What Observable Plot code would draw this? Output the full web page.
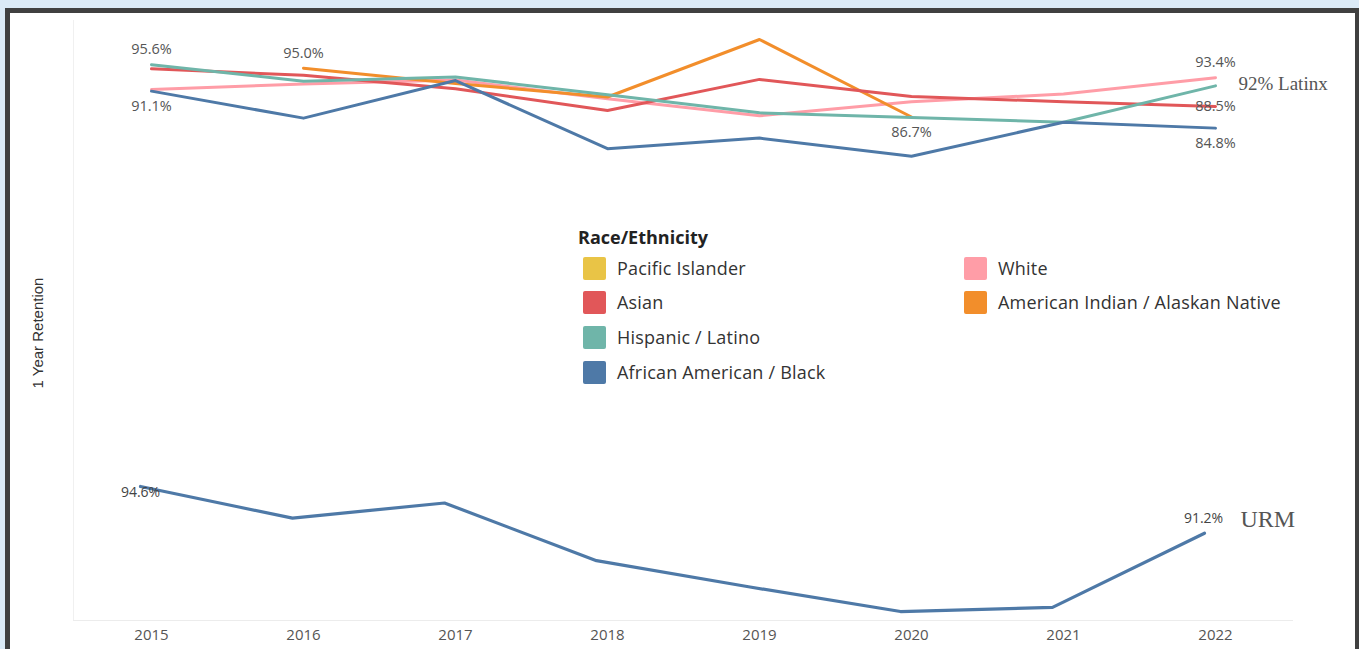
<!DOCTYPE html>
<html>
<head>
<meta charset="utf-8">
<script src="https://cdn.jsdelivr.net/npm/d3@7"></script>
<script src="https://cdn.jsdelivr.net/npm/@observablehq/plot@0.6"></script>
<style>
  html, body { margin: 0; padding: 0; width: 1359px; height: 649px; overflow: hidden; background: #dbeaf6; font-family: "Open Sans", "Noto Sans", sans-serif; }
  #frame { position: absolute; left: 5px; top: 8px; width: 1354px; height: 700px; box-sizing: border-box; background: #fff; border-style: solid; border-color: #404040; border-width: 5px 4px 0 5px; }
  .abs { position: absolute; }
  #topPanel { left: 0; top: 0; }
  #bottomPanel { left: 0; top: 200px; }
  #ylabel { left: 37px; top: 333px; transform: translate(-50%, -50%) rotate(-90deg); font-family: "Liberation Sans", sans-serif; font-size: 15px; color: #333; white-space: nowrap; }
  #legend-title { left: 578px; top: 225px; font-size: 18px; font-weight: 700; color: #222; white-space: nowrap; }
  .item { position: absolute; display: flex; align-items: center; white-space: nowrap; font-size: 18px; letter-spacing: 0.2px; color: #333; height: 24px; }
  .sw { width: 23px; height: 23px; border-radius: 2px; margin-right: 11px; }
</style>
</head>
<body>
<div id="frame"></div>
<div id="topPanel" class="abs"></div>
<div id="bottomPanel" class="abs"></div>
<div id="ylabel" class="abs">1 Year Retention</div>
<div id="legend-title" class="abs">Race/Ethnicity</div>
<div id="legend"></div>
<script>
// ---------- data ----------
const years = [2015, 2016, 2017, 2018, 2019, 2020, 2021, 2022];

const categories = ["Pacific Islander", "Asian", "Hispanic / Latino", "African American / Black", "White", "American Indian / Alaskan Native"];
const colors     = ["#e9c446", "#e15759", "#6fb5a9", "#4e79a7", "#ff9da7", "#f28e2b"];

const pacificIslander = [null, null, null, null, null, null, null, null];
const asian           = [94.9, 93.8, 91.5, 87.8, 93.1, 90.2, 89.3, 88.5];
const hispanicLatino  = [95.6, 92.8, 93.5, 90.5, 87.4, 86.6, 85.8, 92.0];
const africanAmerican = [91.1, 86.5, 92.9, 81.3, 83.1, 80.0, 85.8, 84.8];
const white           = [91.4, 92.3, 93.0, 89.8, 86.9, 89.3, 90.6, 93.4];
const americanIndian  = [null, 95.0, 92.4, 90.1, 99.9, 86.7, null, null];

const urm = [94.6, 92.3, 93.4, 89.2, 87.3, 85.5, 85.8, 91.2];

// value labels shown on the chart: [series, year]
const labelsAbove = [["Hispanic / Latino", 2015], ["American Indian / Alaskan Native", 2016], ["White", 2022]];
const labelsBelow = [["African American / Black", 2015], ["American Indian / Alaskan Native", 2020], ["African American / Black", 2022]];
const labelsOn    = [["Asian", 2022]];
const latinxNote  = "92% Latinx";
const urmNote     = "URM";

// ---------- build tables ----------
const seriesValues = {
  "Pacific Islander": pacificIslander,
  "Asian": asian,
  "Hispanic / Latino": hispanicLatino,
  "African American / Black": africanAmerican,
  "White": white,
  "American Indian / Alaskan Native": americanIndian
};
const drawOrder = ["White", "American Indian / Alaskan Native", "Asian", "Hispanic / Latino", "African American / Black", "Pacific Islander"];
const rows = [];
for (const s of drawOrder) {
  seriesValues[s].forEach((v, i) => { if (v != null) rows.push({series: s, year: years[i], value: v}); });
}
const lookup = ([s, y]) => ({series: s, year: y, value: seriesValues[s][years.indexOf(y)]});
const fmt = v => d3.format(".1f")(v) + "%";
const urmRows = urm.map((v, i) => ({year: years[i], value: v}));

const labelFont = "'Open Sans', 'Noto Sans', sans-serif";
const lblStyle = {fill: "#555", fontSize: 14.5, fontFamily: labelFont, letterSpacing: "0.3px"};

// ---------- top panel ----------
const topChart = Plot.plot({
  width: 1359, height: 200,
  marginLeft: 73, marginRight: 67, marginTop: 20, marginBottom: 0,
  style: {background: "transparent", overflow: "visible"},
  x: {type: "point", domain: years, padding: 0.5, axis: null},
  y: {domain: [80, 100], range: [155.8, 38.4], axis: null},
  color: {domain: categories, range: colors},
  marks: [
    Plot.frame({anchor: "left", stroke: "#f0f0f0"}),
    Plot.line(rows, {x: "year", y: "value", z: "series", stroke: "series", strokeWidth: 3, curve: "linear"}),
    Plot.text(labelsAbove.map(lookup), {x: "year", y: "value", text: d => fmt(d.value), dy: -15, ...lblStyle}),
    Plot.text(labelsBelow.map(lookup), {x: "year", y: "value", text: d => fmt(d.value), dy: 15, ...lblStyle}),
    Plot.text(labelsOn.map(lookup), {x: "year", y: "value", text: d => fmt(d.value), dy: 0, ...lblStyle}),
    Plot.text([lookup(["Hispanic / Latino", 2022])], {x: "year", y: "value", text: () => latinxNote, textAnchor: "start", dx: 23, dy: -2, fill: "#555", fontSize: 19, fontFamily: "'Liberation Serif', serif"})
  ]
});
document.getElementById("topPanel").appendChild(topChart);

// ---------- bottom panel ----------
const bottomChart = Plot.plot({
  width: 1359, height: 449,
  marginLeft: 73, marginRight: 67, marginTop: 0, marginBottom: 29,
  style: {background: "transparent", overflow: "visible"},
  x: {type: "point", domain: years, padding: 0.5},
  y: {domain: [85, 95], range: [417.9, 280.5], axis: null},
  marks: [
    Plot.frame({anchor: "left", stroke: "#f0f0f0"}),
    Plot.frame({anchor: "bottom", stroke: "#ececec"}),
    Plot.axisX({tickSize: 0, tickPadding: 9, fontSize: 15, fill: "#555", fontFamily: labelFont, letterSpacing: "1px", tickFormat: d => String(d), label: null}),
    Plot.line(urmRows, {x: "year", y: "value", stroke: "#4e79a7", strokeWidth: 3.2, dx: -11}),
    Plot.text([urmRows[0]], {x: "year", y: "value", text: d => fmt(d.value), dx: -11, dy: 6, fill: "#444", fontSize: 14, fontFamily: labelFont}),
    Plot.text([urmRows[urmRows.length - 1]], {x: "year", y: "value", text: d => fmt(d.value), dx: -12, dy: -15, fill: "#444", fontSize: 14, fontFamily: labelFont}),
    Plot.text([urmRows[urmRows.length - 1]], {x: "year", y: "value", text: () => urmNote, textAnchor: "start", dx: 25, dy: -14, fill: "#555", fontSize: 24, fontFamily: "'Liberation Serif', serif"})
  ]
});
document.getElementById("bottomPanel").appendChild(bottomChart);

// ---------- legend ----------
const legend = document.getElementById("legend");
const colLeft = [583, 964];
const rowTop = [256, 290, 325, 360];
categories.forEach((c, i) => {
  const col = i < 4 ? 0 : 1;
  const row = i < 4 ? i : i - 4;
  const el = document.createElement("div");
  el.className = "item";
  el.style.left = colLeft[col] + "px";
  el.style.top = rowTop[row] + "px";
  el.innerHTML = `<div class="sw" style="background:${colors[i]}"></div><span>${c}</span>`;
  legend.appendChild(el);
});
</script>
</body>
</html>
